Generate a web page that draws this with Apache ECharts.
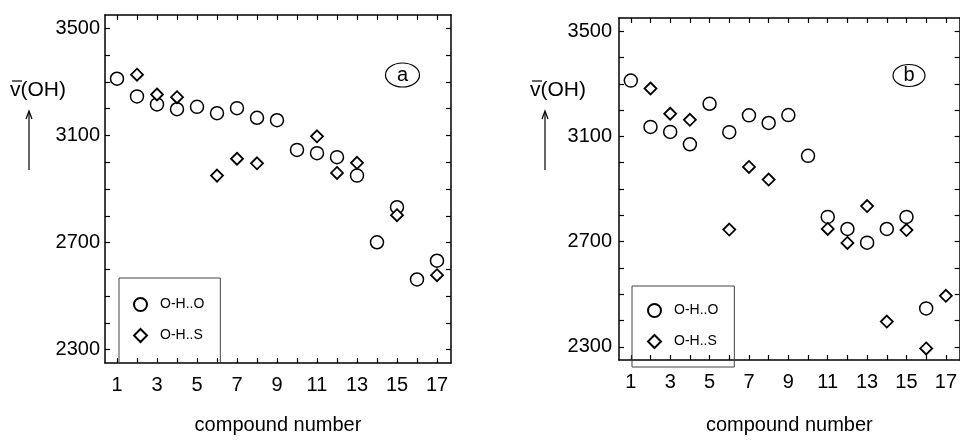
<!DOCTYPE html>
<html>
<head>
<meta charset="utf-8">
<script src="https://cdn.jsdelivr.net/npm/echarts@6/dist/echarts.min.js"></script>
<style>
  html, body { margin: 0; padding: 0; background: #fff; }
  #chart { width: 960px; height: 440px; }
</style>
</head>
<body>
<div id="chart"></div>
<script>
// compound numbers 1..17
const compounds = [1, 2, 3, 4, 5, 6, 7, 8, 9, 10, 11, 12, 13, 14, 15, 16, 17]

// panel (a)
const ohoA = [3312, 3246, 3216, 3198, 3207, 3183, 3202, 3166, 3157, 3046, 3034, 3019, 2950, 2701, 2832, 2562, 2632]
const ohsA = [null, 3327, 3253, 3243, null, 2950, 3013, 2996, null, null, 3097, 2960, 2998, null, 2802, null, 2578]

// panel (b)
const ohoB = [3312, 3136, 3117, 3070, 3224, 3116, 3180, 3151, 3181, 3026, 2794, 2748, 2696, 2748, 2794, 2446, null]
const ohsB = [null, 3282, 3186, 3163, null, 2746, 2984, 2936, null, null, 2748, 2695, 2835, 2396, 2744, 2294, 2494]

// ticks / labels
const xTicks = compounds
const xLabels = [1, 3, 5, 7, 9, 11, 13, 15, 17]
const yTicks = [2300, 2400, 2500, 2600, 2700, 2800, 2900, 3000, 3100, 3200, 3300, 3400, 3500]
const yLabels = [2300, 2700, 3100, 3500]

const FONT = '"Liberation Sans", Arial, sans-serif'
const INK = '#000'

const toPairs = (values) => compounds
  .map((c, i) => [c, values[i]])
  .filter(p => p[1] !== null)

const chart = echarts.init(document.getElementById('chart'))

const grids = [
  { left: 105, top: 15, width: 346, height: 361 },
  { left: 619, top: 18, width: 345, height: 360 }
]

const axisLine = { show: true, onZero: false, lineStyle: { color: INK, width: 1.5 } }
const tickStyle = { show: true, inside: true, length: 5, lineStyle: { color: INK, width: 1.2 } }

const xAxes = []
const yAxes = []
grids.forEach((g, gi) => {
  xAxes.push({
    type: 'value', gridIndex: gi, position: 'bottom', min: 0.4, max: 17.7,
    name: 'compound number', nameLocation: 'middle', nameGap: gi === 0 ? 52 : 55,
    nameTextStyle: { fontFamily: FONT, fontSize: 20, color: INK },
    axisLine: axisLine,
    axisTick: Object.assign({ customValues: xTicks }, tickStyle),
    axisLabel: { customValues: xLabels, margin: 12, fontFamily: FONT, fontSize: 20, color: INK },
    splitLine: { show: false }
  })
  xAxes.push({
    type: 'value', gridIndex: gi, position: 'top', min: 0.4, max: 17.7,
    axisLine: axisLine,
    axisTick: Object.assign({ customValues: xTicks }, tickStyle),
    axisLabel: { show: false },
    splitLine: { show: false }
  })
  yAxes.push({
    type: 'value', gridIndex: gi, position: 'left', min: 2250, max: 3550,
    axisLine: axisLine,
    axisTick: Object.assign({ customValues: yTicks }, tickStyle),
    axisLabel: {
      customValues: yLabels, margin: gi === 0 ? 5 : 7, fontFamily: FONT, fontSize: 20, color: INK,
      formatter: v => String(v)
    },
    splitLine: { show: false }
  })
  yAxes.push({
    type: 'value', gridIndex: gi, position: 'right', min: 2250, max: 3550,
    axisLine: axisLine,
    axisTick: Object.assign({ customValues: yTicks }, tickStyle),
    axisLabel: { show: false },
    splitLine: { show: false }
  })
})

const circleStyle = { color: '#fff', borderColor: INK, borderWidth: 1.5, opacity: 1 }
const diamondStyle = { color: '#fff', borderColor: INK, borderWidth: 1.8, opacity: 1 }

const makeSeries = (gi, oho, ohs) => [
  {
    name: 'O-H..O', type: 'scatter', xAxisIndex: gi * 2, yAxisIndex: gi * 2,
    symbol: 'circle', symbolSize: 13, itemStyle: circleStyle,
    emphasis: { disabled: true }, data: toPairs(oho)
  },
  {
    name: 'O-H..S', type: 'scatter', xAxisIndex: gi * 2, yAxisIndex: gi * 2,
    symbol: 'diamond', symbolSize: 12, itemStyle: diamondStyle,
    emphasis: { disabled: true }, data: toPairs(ohs)
  }
]

const makeLegend = (left, top, pad) => ({
  left: left, top: top, orient: 'vertical',
  padding: pad, itemGap: 16, itemWidth: 13, itemHeight: 13,
  borderColor: '#444', borderWidth: 1,
  selectedMode: false,
  textStyle: { fontFamily: FONT, fontSize: 14, color: INK, padding: [0, 0, 0, 8] },
  data: [{ name: 'O-H..O', icon: 'circle' }, { name: 'O-H..S', icon: 'diamond' }]
})

const yLabelGraphic = (x, arrowX) => [
  { type: 'text', x: x, y: 90, style: { text: 'v(OH)', font: '21px ' + FONT, fill: INK, verticalAlign: 'middle' } },
  { type: 'line', shape: { x1: x + 2, y1: 81, x2: x + 12, y2: 81 }, style: { stroke: INK, lineWidth: 1.2 } },
  { type: 'line', shape: { x1: arrowX, y1: 170, x2: arrowX, y2: 112 }, style: { stroke: INK, lineWidth: 1.2 } },
  { type: 'polyline', shape: { points: [[arrowX - 3, 119], [arrowX, 111], [arrowX + 3, 119]] }, style: { stroke: INK, fill: 'none', lineWidth: 1.2 } }
]

const tagGraphic = (cx, cy, rx, ry, label) => [
  { type: 'ellipse', shape: { cx: cx, cy: cy, rx: rx, ry: ry }, style: { fill: 'none', stroke: INK, lineWidth: 1.2 } },
  { type: 'text', x: cx, y: cy, style: { text: label, font: '20px ' + FONT, fill: INK, align: 'center', verticalAlign: 'middle' } }
]

const option = {
  backgroundColor: '#fff',
  animation: false,
  grid: grids,
  xAxis: xAxes,
  yAxis: yAxes,
  legend: [
    makeLegend(119, 278, [19, 16, 20, 14]),
    makeLegend(632, 286, [17, 16, 18, 15])
  ],
  graphic: [].concat(
    yLabelGraphic(10, 29),
    yLabelGraphic(530, 545),
    tagGraphic(402.5, 75, 17, 12, 'a'),
    tagGraphic(909, 75.5, 16, 11, 'b')
  ),
  series: [].concat(makeSeries(0, ohoA, ohsA), makeSeries(1, ohoB, ohsB))
}

chart.setOption(option)
</script>
</body>
</html>
